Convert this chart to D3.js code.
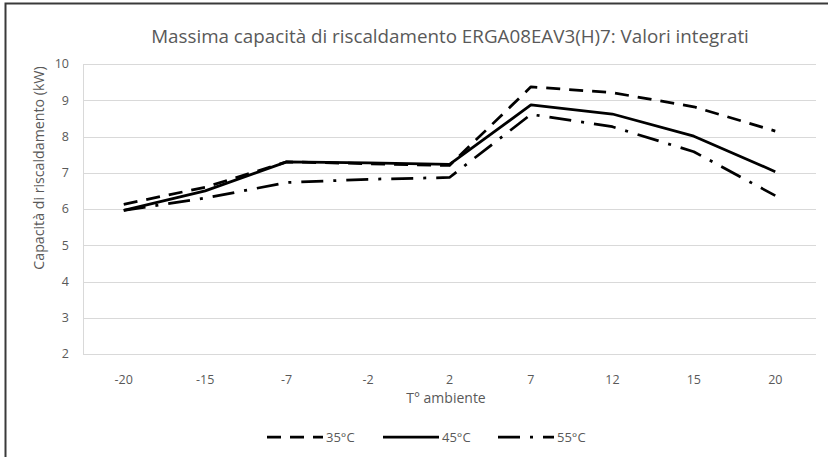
<!DOCTYPE html>
<html>
<head>
<meta charset="utf-8">
<script src="https://cdn.jsdelivr.net/npm/d3@7"></script>
<style>
    body { margin: 0; background: #fff; overflow: hidden; }
    svg { display: block; font-family: "Open Sans", sans-serif; }
    .grid line { stroke: #d9d9d9; stroke-width: 1; }
    .tick-label { fill: #595959; font-size: 12.5px; }
</style>
</head>
<body>
<div id="chart"></div>
<script>
const categories = ['-20', '-15', '-7', '-2', '2', '7', '12', '15', '20'];
const yTicks = [2, 3, 4, 5, 6, 7, 8, 9, 10];

const values35 = [6.13, 6.6, 7.3, 7.25, 7.2, 9.37, 9.21, 8.82, 8.15];
const values45 = [5.96, 6.5, 7.3, 7.27, 7.23, 8.87, 8.62, 8.01, 7.03];
const values55 = [5.96, 6.3, 6.73, 6.82, 6.87, 8.61, 8.27, 7.58, 6.37];

const seriesNames = ['35°C', '45°C', '55°C'];

const width = 828;
const height = 457;

const svg = d3.select('#chart')
    .append('svg')
    .attr('width', width)
    .attr('height', height);

// outer frame: only top and left edges show in the original
svg.append('path')
    .attr('d', `M5.5,${height}V3.5H${width}`)
    .attr('fill', 'none')
    .attr('stroke', '#3a3a3a')
    .attr('stroke-width', 2);

const xScale = d3.scalePoint().domain(categories).range([83, 816]).padding(0.5);
const yScale = d3.scaleLinear().domain([2, 10]).range([354, 64]);

// gridlines
svg.append('g')
    .attr('class', 'grid')
    .selectAll('line')
    .data(yTicks)
    .enter().append('line')
    .attr('x1', 83)
    .attr('x2', 816)
    .attr('y1', d => Math.round(yScale(d)) + 0.5)
    .attr('y2', d => Math.round(yScale(d)) + 0.5);

svg.append('line')
    .attr('x1', 83.5).attr('x2', 83.5)
    .attr('y1', yScale(10)).attr('y2', yScale(2))
    .attr('stroke', '#d9d9d9');

// y labels
svg.selectAll('.yLabel')
    .data(yTicks)
    .enter().append('text')
    .attr('class', 'tick-label')
    .attr('x', 69)
    .attr('y', d => yScale(d))
    .attr('dy', '0.35em')
    .attr('text-anchor', 'end')
    .text(String);

// x labels
svg.selectAll('.xLabel')
    .data(categories)
    .enter().append('text')
    .attr('class', 'tick-label')
    .attr('x', d => xScale(d))
    .attr('y', 384)
    .attr('text-anchor', 'middle')
    .text(String);

// titles
svg.append('text')
    .attr('x', 450)
    .attr('y', 43)
    .attr('text-anchor', 'middle')
    .attr('fill', '#595959')
    .style('font-size', '18.8px')
    .text('Massima capacità di riscaldamento ERGA08EAV3(H)7: Valori integrati');

svg.append('text')
    .attr('x', 446)
    .attr('y', 403)
    .attr('text-anchor', 'middle')
    .attr('fill', '#595959')
    .style('font-size', '14px')
    .text('T° ambiente');

svg.append('text')
    .attr('transform', 'translate(39,168) rotate(-90)')
    .attr('text-anchor', 'middle')
    .attr('dy', '0.35em')
    .attr('fill', '#595959')
    .style('font-size', '14.2px')
    .text('Capacità di riscaldamento (kW)');

// lines
const dashes = ['14,9', null, '22,10,3,10'];
const allValues = [values35, values45, values55];

const line = d3.line()
    .x((d, i) => xScale(categories[i]))
    .y(d => yScale(d));

// draw 55 first, then 35, then 45 on top
[2, 0, 1].forEach(idx => {
    svg.append('path')
        .datum(allValues[idx])
        .attr('d', line)
        .attr('fill', 'none')
        .attr('stroke', '#000')
        .attr('stroke-width', 2.75)
        .attr('stroke-linejoin', 'round')
        .attr('stroke-dasharray', dashes[idx]);
});

// legend
const legendX = [267, 383, 498];
seriesNames.forEach((name, idx) => {
    svg.append('line')
        .attr('x1', legendX[idx])
        .attr('x2', legendX[idx] + 56)
        .attr('y1', 437)
        .attr('y2', 437)
        .attr('stroke', '#000')
        .attr('stroke-width', 2.75)
        .attr('stroke-dasharray', dashes[idx]);
    svg.append('text')
        .attr('class', 'tick-label')
        .attr('x', legendX[idx] + 59)
        .attr('y', 437)
        .attr('dy', '0.35em')
        .style('font-size', '13px')
        .text(name);
});
</script>
</body>
</html>
